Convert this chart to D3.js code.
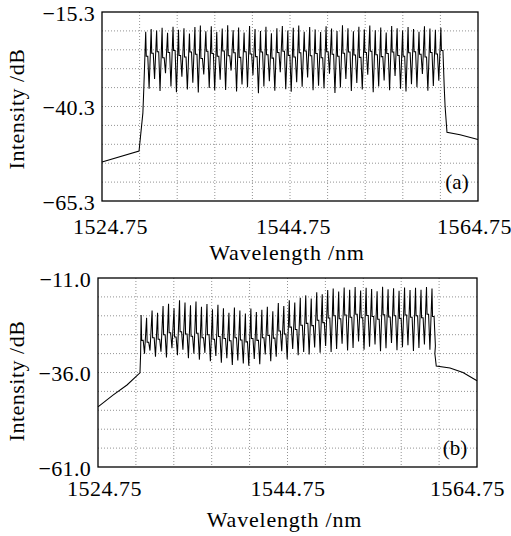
<!DOCTYPE html>
<html><head><meta charset="utf-8">
<script src="https://cdn.jsdelivr.net/npm/d3@7"></script>
<style>html,body{margin:0;padding:0;background:#fff;}</style>
</head><body>
<script>
// ---------- DATA ----------
const xTickLabels = ["1524.75", "1544.75", "1564.75"];
const xTicks = [1524.75, 1544.75, 1564.75];
const yTickLabelsA = ["\u221215.3", "\u221240.3", "\u221265.3"];
const yTicksA = [-15.3, -40.3, -65.3];
const yTickLabelsB = ["\u221211.0", "\u221236.0", "\u221261.0"];
const yTicksB = [-11.0, -36.0, -61.0];

// Panel (a): comb channel peak / mid-level / trough intensities (dB)
const combRangeA = [1529.4, 1560.8];
const peaksA = [-20.5,-19.8,-20.2,-19.5,-20.8,-19.2,-20.0,-19.6,-21.0,-19.3,-18.9,-20.4,-19.1,-20.6,-19.7,-18.8,-20.1,-19.4,-20.7,-19.0,-19.8,-20.3,-19.2,-20.9,-19.6,-19.0,-20.2,-19.5,-18.9,-20.5,-19.3,-19.9,-20.6,-19.1,-19.7,-20.3,-18.8,-19.6,-20.4,-19.2,-19.9,-18.9,-20.1,-19.4,-20.7,-19.0,-19.6,-20.2,-19.3,-19.8,-20.5,-19.1,-19.7,-20.0,-19.5];
const midsA = [-27.0,-26.2,-25.8,-27.4,-26.0,-25.5,-26.8,-27.2,-25.9,-26.5,-27.6,-25.7,-26.3,-27.0,-25.6,-26.9,-26.1,-27.3,-25.8,-26.4,-27.1,-25.9,-26.6,-27.5,-26.0,-25.7,-26.8,-27.2,-26.1,-25.6,-26.9,-26.3,-27.4,-25.8,-26.5,-27.0,-26.2,-25.9,-26.7,-27.3,-26.0,-25.7,-26.6,-27.1,-26.3,-25.9,-26.8,-27.0,-26.1,-25.8,-26.5,-27.2,-26.0,-26.4,-25.5];
const troughsA = [-35.6,-33.0,-36.2,-31.5,-35.0,-36.5,-32.4,-35.8,-34.0,-36.6,-31.8,-35.4,-36.0,-33.2,-35.9,-30.8,-36.3,-34.5,-35.2,-32.0,-36.8,-35.0,-33.6,-36.1,-31.2,-35.7,-36.4,-33.9,-35.1,-32.6,-36.0,-34.8,-35.5,-31.6,-36.7,-35.3,-33.0,-36.2,-34.1,-35.8,-31.9,-36.5,-35.0,-33.4,-36.0,-32.2,-35.6,-36.3,-34.4,-35.2,-31.7,-36.1,-34.9,-33.5,-35.4];
// ASE background outside the comb, panel (a)
const preWlA  = [1524.75, 1528.69, 1529.1, 1529.2];
const preValA = [-55.0, -52.1, -42.0, -35.4];
const postWlA  = [1561.25, 1561.45, 1562.84, 1564.75];
const postValA = [-40.3, -47.1, -47.8, -49.0];

// Panel (b)
const combRangeB = [1529.3, 1560.0];
const peaksB = [-20.8,-21.5,-19.6,-20.2,-18.4,-17.8,-19.0,-16.9,-17.5,-18.2,-17.2,-18.6,-17.9,-19.3,-18.1,-19.0,-20.2,-18.8,-19.6,-20.4,-19.1,-20.0,-19.4,-18.6,-19.8,-17.6,-18.4,-16.9,-17.5,-16.2,-15.6,-16.4,-14.8,-15.3,-14.2,-13.8,-14.6,-13.5,-14.1,-13.4,-14.3,-13.6,-13.9,-14.5,-13.3,-14.0,-13.7,-14.4,-13.5,-14.2,-13.6,-14.1,-13.4,-13.8];
const midsB = [-27.5,-28.0,-26.8,-27.2,-26.0,-25.5,-26.6,-25.2,-25.8,-26.4,-25.6,-26.8,-26.0,-27.2,-26.5,-27.0,-27.6,-26.8,-27.4,-27.9,-27.0,-27.5,-26.8,-26.2,-26.9,-25.0,-25.8,-24.0,-24.6,-23.5,-23.0,-23.6,-22.2,-22.8,-21.6,-21.0,-21.8,-20.8,-21.4,-20.6,-21.5,-20.9,-21.2,-21.9,-20.7,-21.3,-21.0,-21.7,-20.8,-21.4,-21.0,-21.5,-20.6,-21.2];
const troughsB = [-31.0,-30.2,-31.8,-30.5,-32.0,-29.6,-31.4,-30.0,-32.2,-31.0,-32.6,-30.8,-33.0,-31.6,-33.4,-32.2,-34.0,-32.8,-33.6,-34.2,-32.4,-33.8,-31.2,-33.0,-31.8,-30.4,-32.5,-29.8,-31.4,-30.6,-31.2,-29.4,-30.8,-29.0,-30.6,-29.8,-28.4,-30.2,-29.5,-27.8,-30.0,-29.2,-28.6,-30.4,-29.6,-28.2,-30.1,-29.3,-28.8,-30.3,-29.5,-28.6,-30.0,-29.0];
const preWlB  = [1524.75, 1526.33, 1527.81, 1529.18, 1529.25];
const preValB = [-45.1, -42.0, -39.3, -36.1, -31.0];
const postWlB  = [1560.3, 1560.45, 1561.9, 1563.27, 1564.75];
const postValB = [-31.0, -34.3, -34.8, -36.0, -38.2];

// ---------- DRAW ----------
const W = 511, H = 536;
const FONT = "'Liberation Serif','Times New Roman',serif";
const svg = d3.select("body").append("svg").attr("width", W).attr("height", H)
  .style("font-family", FONT);

function panel(cfg) {
  const {left, right, top, bottom, yDomain, yTicks, yLabels, combRange, peaks, mids, troughs,
         preWl, preVal, postWl, postVal, tag, xLabelDx, yLabelX, titleY, yTitleX, yTitleY, tagX, tagY, xLabelY} = cfg;
  const x = d3.scaleLinear().domain([1524.75, 1564.75]).range([left, right]);
  const y = d3.scaleLinear().domain(yDomain).range([bottom, top]);
  const g = svg.append("g");

  // grid
  const xGrid = d3.range(11).map(i => 1524.75 + i * 4);
  const yGrid = d3.range(11).map(i => yDomain[0] + i * 5);
  g.append("g").selectAll("line").data(xGrid.slice(1, -1)).join("line")
    .attr("x1", d => x(d)).attr("x2", d => x(d)).attr("y1", top).attr("y2", bottom)
    .attr("stroke", "#777").attr("stroke-width", 0.8).attr("stroke-dasharray", "1,2");
  g.append("g").selectAll("line").data(yGrid.slice(1, -1)).join("line")
    .attr("x1", left).attr("x2", right).attr("y1", d => y(d)).attr("y2", d => y(d))
    .attr("stroke", "#777").attr("stroke-width", 0.8).attr("stroke-dasharray", "1,2");

  // spectrum path
  const ch = d3.scaleLinear().domain([0, peaks.length - 1]).range(combRange);
  const s = (combRange[1] - combRange[0]) / (peaks.length - 1);
  const pts = [];
  preWl.forEach((w, i) => pts.push([w, preVal[i]]));
  peaks.forEach((p, i) => {
    const w = ch(i);
    pts.push([w, p]);
    pts.push([w + 0.10 * s, mids[i]]);
    pts.push([w + 0.38 * s, mids[i]]);
    pts.push([w + 0.62 * s, troughs[i]]);
  });
  postWl.forEach((w, i) => pts.push([w, postVal[i]]));
  const line = d3.line().x(d => x(d[0])).y(d => y(d[1]));
  g.append("path").datum(pts).attr("d", line)
    .attr("fill", "none").attr("stroke", "#000").attr("stroke-width", 1.05)
    .attr("stroke-linejoin", "miter");

  // frame
  g.append("rect").attr("x", left).attr("y", top).attr("width", right - left).attr("height", bottom - top)
    .attr("fill", "none").attr("stroke", "#000").attr("stroke-width", 1.3);

  // x axis labels
  const xAxis = d3.axisBottom(x).tickValues(xTicks).tickSize(0).tickFormat((d, i) => xTickLabels[i]);
  const xa = g.append("g").attr("transform", `translate(0,${xLabelY})`).call(xAxis);
  xa.select(".domain").remove();
  xa.selectAll("text").attr("dy", 0).attr("dx", (d, i) => xLabelDx[i])
    .style("font-family", FONT).style("font-size", "22px").style("letter-spacing", "0.5px").attr("fill", "#000");

  // y axis labels
  const yAxis = d3.axisLeft(y).tickValues(yTicks).tickSize(0).tickFormat((d, i) => yLabels[i]);
  const ya = g.append("g").attr("transform", `translate(${yLabelX},0)`).call(yAxis);
  ya.select(".domain").remove();
  ya.selectAll("text").attr("x", 0).attr("dy", "0.38em")
    .style("font-family", FONT).style("font-size", "22px").style("letter-spacing", "0.3px").attr("fill", "#000");

  // titles
  g.append("text").attr("x", (left + right) / 2 - 3).attr("y", titleY).attr("text-anchor", "middle")
    .style("font-size", "22px").style("letter-spacing", "0.8px").text("Wavelength /nm");
  g.append("text").attr("transform", `translate(${yTitleX},${yTitleY}) rotate(-90)`).attr("text-anchor", "middle")
    .style("font-size", "22px").style("letter-spacing", "0.5px").text("Intensity /dB");
  g.append("text").attr("x", tagX).attr("y", tagY).attr("text-anchor", "middle")
    .style("font-size", "21px").text(tag);
}

panel({left: 102, right: 478, top: 12, bottom: 201, yDomain: [-65.3, -15.3],
  yTicks: yTicksA, yLabels: yTickLabelsA, combRange: combRangeA, peaks: peaksA, mids: midsA, troughs: troughsA,
  preWl: preWlA, preVal: preValA, postWl: postWlA, postVal: postValA, tag: "(a)",
  xLabelDx: [8, 3, -4], xLabelY: 231, yLabelX: 95, titleY: 260, yTitleX: 24, yTitleY: 109, tagX: 457, tagY: 189});

panel({left: 98, right: 477, top: 278, bottom: 467, yDomain: [-61.0, -11.0],
  yTicks: yTicksB, yLabels: yTickLabelsB, combRange: combRangeB, peaks: peaksB, mids: midsB, troughs: troughsB,
  preWl: preWlB, preVal: preValB, postWl: postWlB, postVal: postValB, tag: "(b)",
  xLabelDx: [6, 0, -10], xLabelY: 493, yLabelX: 91, titleY: 527, yTitleX: 24, yTitleY: 381, tagX: 455, tagY: 455});
</script>
</body></html>
